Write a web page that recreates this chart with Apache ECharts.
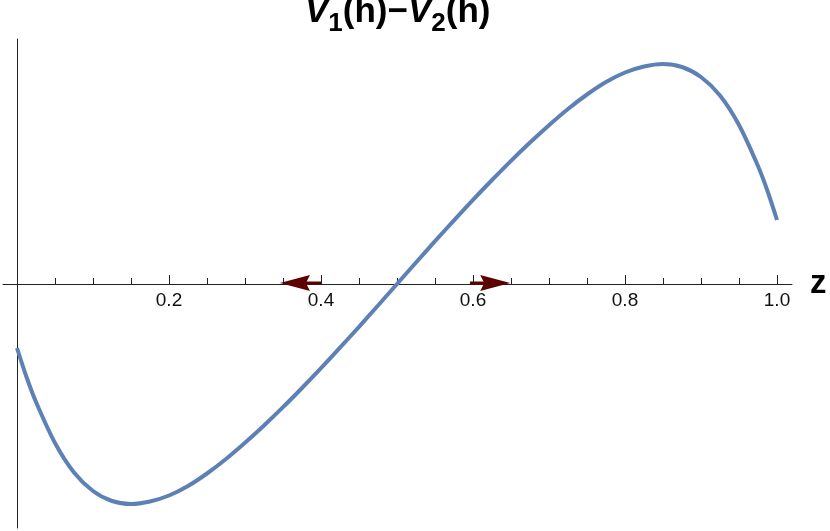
<!DOCTYPE html>
<html>
<head>
<meta charset="utf-8">
<title>V1(h)-V2(h)</title>
<script src="https://cdn.jsdelivr.net/npm/echarts@6/dist/echarts.min.js"></script>
<style>
  html, body { margin: 0; padding: 0; background: #fff; }
  #main { width: 830px; height: 531px; }
</style>
</head>
<body>
<div id="main"></div>
<script>
// values
const zValues = [0, 0.0125, 0.025, 0.05, 0.075, 0.1, 0.125, 0.15, 0.175, 0.2, 0.225, 0.25, 0.275, 0.3,
  0.325, 0.35, 0.375, 0.4, 0.425, 0.45, 0.475, 0.5, 0.525, 0.55, 0.575, 0.6, 0.625, 0.65, 0.675,
  0.7, 0.725, 0.75, 0.775, 0.8, 0.825, 0.85, 0.875, 0.9, 0.925, 0.95, 0.975, 0.9875, 1.0];
const diffValues = [-0.64, -0.93, -1.18, -1.59, -1.885, -2.07, -2.17, -2.20, -2.175, -2.115, -2.02, -1.895, -1.75, -1.588,
  -1.415, -1.232, -1.04, -0.842, -0.637, -0.428, -0.215, 0, 0.215, 0.428, 0.637, 0.842, 1.04, 1.232, 1.415,
  1.588, 1.75, 1.895, 2.02, 2.115, 2.175, 2.20, 2.17, 2.07, 1.885, 1.59, 1.18, 0.93, 0.64];

// flow arrows on the z axis: from -> to
const arrowFrom = [0.596, 0.4];
const arrowTo = [0.649, 0.346];

const tickLabels = ['0.2', '0.4', '0.6', '0.8', '1.0'];

const curveColor = '#5E81B5';
const arrowColor = '#5c0000';
const font = 'Liberation Sans, Arial, sans-serif';

const chart = echarts.init(document.getElementById('main'));

function renderArrow(params, api) {
  const a = api.coord([api.value(0), 0]);
  const b = api.coord([api.value(1), 0]);
  const dir = b[0] > a[0] ? 1 : -1;
  const y = a[1] - 1;
  const headLen = 30, halfW = 8, notch = 4;
  const tip = b[0];
  const back = tip - dir * headLen;
  return {
    type: 'group',
    children: [
      {
        type: 'line',
        shape: { x1: a[0], y1: y, x2: back + dir * notch, y2: y },
        style: { stroke: arrowColor, lineWidth: 3 }
      },
      {
        type: 'polygon',
        shape: { points: [[tip, y], [back, y - halfW], [back + dir * notch, y], [back, y + halfW]] },
        style: { fill: arrowColor }
      }
    ]
  };
}

const option = {
  backgroundColor: '#fff',
  animation: false,
  title: {
    text: '{v|V}{s|1}{n|(h)−}{v|V}{s|2}{n|(h)}',
    left: 300,
    top: -8,
    textStyle: {
      rich: {
        v: { fontFamily: font, fontSize: 35, fontWeight: 'bold', fontStyle: 'italic', color: '#000',
          lineHeight: 40, padding: [0, 0, 7, 0], verticalAlign: 'bottom' },
        n: { fontFamily: font, fontSize: 35, fontWeight: 'bold', color: '#000',
          lineHeight: 40, padding: [0, 0, 7, 0], verticalAlign: 'bottom' },
        s: { fontFamily: font, fontSize: 26, fontWeight: 'bold', color: '#000',
          lineHeight: 30, verticalAlign: 'bottom' }
      }
    }
  },
  grid: [
    // full-length z axis line
    { left: 3, width: 789, top: 39, height: 489, containLabel: false, outerBoundsMode: 'none' },
    // plot area, z from 0 to 1
    { left: 17, width: 760, top: 39, height: 489, containLabel: false, outerBoundsMode: 'none' },
    // upper half only: its bottom edge sits on the zero line and carries ticks and labels
    { left: 17, width: 760, top: 39, height: 245, containLabel: false, outerBoundsMode: 'none' }
  ],
  xAxis: [
    {
      gridIndex: 0,
      type: 'value',
      min: -0.01842,
      max: 1.0197,
      name: 'z',
      nameLocation: 'end',
      nameGap: 18,
      nameTextStyle: { fontFamily: font, fontSize: 33, fontWeight: 'bold', color: '#000', padding: [0, 0, 14, 0] },
      axisLine: { show: true, onZero: true, lineStyle: { color: '#222', width: 1 } },
      axisTick: { show: false },
      axisLabel: { show: false },
      splitLine: { show: false }
    },
    {
      gridIndex: 1,
      type: 'value',
      min: 0,
      max: 1,
      show: false
    },
    {
      gridIndex: 2,
      type: 'value',
      position: 'bottom',
      min: 0,
      max: 1,
      interval: 0.2,
      axisLine: { show: false, onZero: false },
      axisTick: { show: true, inside: true, length: 9, lineStyle: { color: '#222', width: 1 } },
      minorTick: { show: true, splitNumber: 4, length: 6, lineStyle: { color: '#222', width: 1 } },
      axisLabel: {
        margin: 7,
        fontFamily: font,
        fontSize: 19,
        color: '#111',
        formatter: function (v) {
          const s = v.toFixed(1);
          return tickLabels.indexOf(s) >= 0 ? s : '';
        }
      },
      splitLine: { show: false }
    }
  ],
  yAxis: [
    {
      gridIndex: 0,
      type: 'value',
      min: -2.44,
      max: 2.45,
      show: false
    },
    {
      gridIndex: 1,
      type: 'value',
      min: -2.44,
      max: 2.45,
      axisLine: { show: true, onZero: true, lineStyle: { color: '#222', width: 1 } },
      axisTick: { show: false },
      axisLabel: { show: false },
      splitLine: { show: false }
    },
    {
      gridIndex: 2,
      type: 'value',
      min: 0,
      max: 2.45,
      show: false
    }
  ],
  series: [
    {
      name: 'V1(h)-V2(h)',
      type: 'line',
      xAxisIndex: 1,
      yAxisIndex: 1,
      data: zValues.map((z, i) => [z, diffValues[i]]),
      showSymbol: false,
      smooth: 0.3,
      clip: false,
      lineStyle: { color: curveColor, width: 4 },
      z: 3
    },
    {
      name: 'flow',
      type: 'custom',
      xAxisIndex: 1,
      yAxisIndex: 1,
      data: arrowFrom.map((f, i) => [f, arrowTo[i]]),
      renderItem: renderArrow,
      z: 4
    }
  ]
};

chart.setOption(option);
</script>
</body>
</html>
